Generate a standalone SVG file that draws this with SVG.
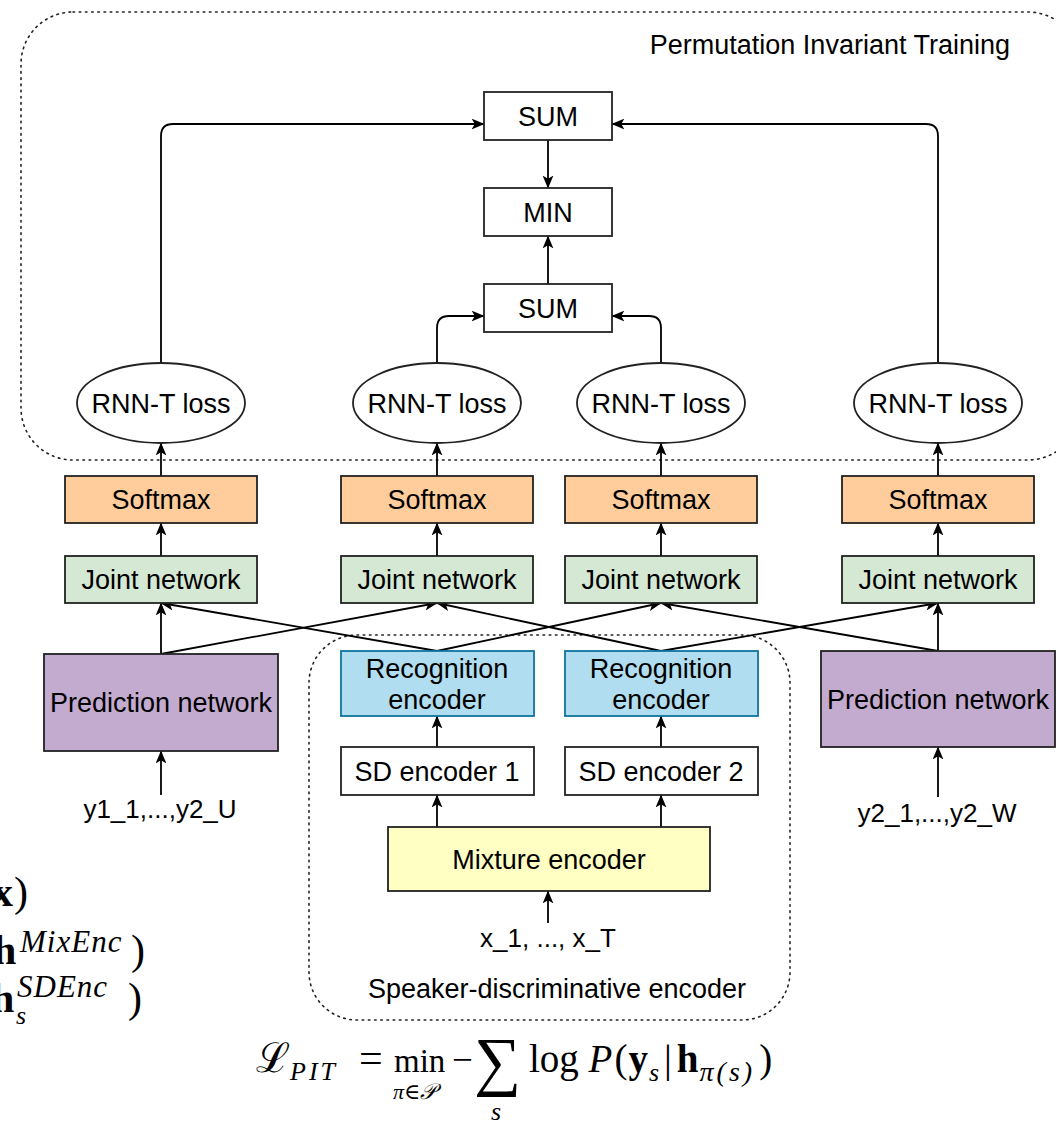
<svg xmlns="http://www.w3.org/2000/svg" width="1056" height="1126" viewBox="0 0 1056 1126">
<style>
.box{stroke:#222;stroke-width:1.8}
.lbl{font-family:"Liberation Sans",Arial,sans-serif;font-size:27px;fill:#000;text-anchor:middle}
.in{font-family:"Liberation Sans",Arial,sans-serif;font-size:26px;fill:#000;text-anchor:middle}
.c{fill:none;stroke:#000;stroke-width:1.8}
.dot{fill:none;stroke:#222;stroke-width:1.6;stroke-dasharray:1.6 4.6;stroke-linecap:round}
.m{font-family:"Liberation Serif","DejaVu Serif",serif;font-size:37px;fill:#000}
.sm{font-size:26px}
.it{font-style:italic}
.bf{font-weight:bold}
.soft{fill:#ffcd9c}
.joint{fill:#d5e8d4}
.pred{fill:#c3abd0}
.rec{fill:#b1ddf0;stroke:#10739e;stroke-width:1.8}
.mix{fill:#ffffc4}
.wht{fill:#fff}
</style>
<defs>
<marker id="ar" markerUnits="userSpaceOnUse" markerWidth="13" markerHeight="11" viewBox="0 0 12 10" refX="11.5" refY="5" orient="auto">
<path d="M0,0 L12,5 L0,10 L3,5 z" fill="#000"/>
</marker>
</defs>

<g id="containers">
<rect id="pit" class="dot" x="21" y="12" width="1059" height="448" rx="52" ry="52"/>
<text class="lbl" x="1010" y="54" style="text-anchor:end">Permutation Invariant Training</text>
<rect id="sde" class="dot" x="309" y="635" width="481" height="385" rx="48" ry="48"/>
<text class="lbl" x="557" y="998">Speaker-discriminative encoder</text>
</g>

<g id="connectors">
<path class="c" d="M161,363 V136 Q161,124 173,124 H484" marker-end="url(#ar)"/>
<path class="c" d="M938,363 V136 Q938,124 926,124 H612" marker-end="url(#ar)"/>
<path class="c" d="M437,363 V328 Q437,316 449,316 H484" marker-end="url(#ar)"/>
<path class="c" d="M661,363 V328 Q661,316 649,316 H612" marker-end="url(#ar)"/>
<path class="c" d="M548,140 V188" marker-end="url(#ar)"/>
<path class="c" d="M548,284 V236" marker-end="url(#ar)"/>
<path class="c" d="M161,476 V443" marker-end="url(#ar)"/>
<path class="c" d="M437,476 V443" marker-end="url(#ar)"/>
<path class="c" d="M661,476 V443" marker-end="url(#ar)"/>
<path class="c" d="M938,476 V443" marker-end="url(#ar)"/>
<path class="c" d="M161,556 V523" marker-end="url(#ar)"/>
<path class="c" d="M437,556 V523" marker-end="url(#ar)"/>
<path class="c" d="M661,556 V523" marker-end="url(#ar)"/>
<path class="c" d="M938,556 V523" marker-end="url(#ar)"/>
<path class="c" d="M161,654 V603" marker-end="url(#ar)"/>
<path class="c" d="M938,651 V603" marker-end="url(#ar)"/>
<path class="c" d="M161,654 L437,603" marker-end="url(#ar)"/>
<path class="c" d="M437,651 L161,603" marker-end="url(#ar)"/>
<path class="c" d="M437,651 L661,603" marker-end="url(#ar)"/>
<path class="c" d="M661,651 L437,603" marker-end="url(#ar)"/>
<path class="c" d="M661,651 L938,603" marker-end="url(#ar)"/>
<path class="c" d="M938,651 L661,603" marker-end="url(#ar)"/>
<path class="c" d="M437,747 V716" marker-end="url(#ar)"/>
<path class="c" d="M661,747 V716" marker-end="url(#ar)"/>
<path class="c" d="M437,827 V795" marker-end="url(#ar)"/>
<path class="c" d="M661,827 V795" marker-end="url(#ar)"/>
<path class="c" d="M548,923 V891" marker-end="url(#ar)"/>
<path class="c" d="M161,795 V751" marker-end="url(#ar)"/>
<path class="c" d="M938,797 V747" marker-end="url(#ar)"/>
</g>

<g id="sum-top"><rect class="box wht" x="484" y="92" width="128" height="48"/><text class="lbl" x="548" y="126">SUM</text></g>
<g id="min"><rect class="box wht" x="484" y="188" width="128" height="48"/><text class="lbl" x="548" y="222">MIN</text></g>
<g id="sum-inner"><rect class="box wht" x="484" y="284" width="128" height="48"/><text class="lbl" x="548" y="318">SUM</text></g>

<g id="loss1"><ellipse class="box wht" cx="161" cy="403" rx="84" ry="40"/><text class="lbl" x="161" y="413">RNN-T loss</text></g>
<g id="loss2"><ellipse class="box wht" cx="437" cy="403" rx="84" ry="40"/><text class="lbl" x="437" y="413">RNN-T loss</text></g>
<g id="loss3"><ellipse class="box wht" cx="661" cy="403" rx="84" ry="40"/><text class="lbl" x="661" y="413">RNN-T loss</text></g>
<g id="loss4"><ellipse class="box wht" cx="938" cy="403" rx="84" ry="40"/><text class="lbl" x="938" y="413">RNN-T loss</text></g>

<g id="softmax1"><rect class="box soft" x="65" y="476" width="192" height="47"/><text class="lbl" x="161" y="509">Softmax</text></g>
<g id="softmax2"><rect class="box soft" x="341" y="476" width="192" height="47"/><text class="lbl" x="437" y="509">Softmax</text></g>
<g id="softmax3"><rect class="box soft" x="565" y="476" width="192" height="47"/><text class="lbl" x="661" y="509">Softmax</text></g>
<g id="softmax4"><rect class="box soft" x="842" y="476" width="192" height="47"/><text class="lbl" x="938" y="509">Softmax</text></g>

<g id="joint1"><rect class="box joint" x="65" y="556" width="192" height="47"/><text class="lbl" x="161" y="589">Joint network</text></g>
<g id="joint2"><rect class="box joint" x="341" y="556" width="192" height="47"/><text class="lbl" x="437" y="589">Joint network</text></g>
<g id="joint3"><rect class="box joint" x="565" y="556" width="192" height="47"/><text class="lbl" x="661" y="589">Joint network</text></g>
<g id="joint4"><rect class="box joint" x="842" y="556" width="192" height="47"/><text class="lbl" x="938" y="589">Joint network</text></g>

<g id="pred1"><rect class="box pred" x="44" y="654" width="234" height="97"/><text class="lbl" x="161" y="712">Prediction network</text></g>
<g id="pred2"><rect class="box pred" x="821" y="651" width="234" height="96"/><text class="lbl" x="938" y="709">Prediction network</text></g>

<g id="rec1"><rect class="rec" x="341" y="651" width="193" height="65"/><text class="lbl" x="437" y="678">Recognition</text><text class="lbl" x="437" y="709">encoder</text></g>
<g id="rec2"><rect class="rec" x="565" y="651" width="193" height="65"/><text class="lbl" x="661" y="678">Recognition</text><text class="lbl" x="661" y="709">encoder</text></g>

<g id="sd1"><rect class="box wht" x="341" y="747" width="193" height="48"/><text class="lbl" x="437" y="781">SD encoder 1</text></g>
<g id="sd2"><rect class="box wht" x="565" y="747" width="193" height="48"/><text class="lbl" x="661" y="781">SD encoder 2</text></g>

<g id="mixture"><rect class="box mix" x="388" y="827" width="322" height="64"/><text class="lbl" x="549" y="869">Mixture encoder</text></g>

<g id="inputs">
<text class="in" x="160" y="818">y1_1,...,y2_U</text>
<text class="in" x="937" y="822">y2_1,...,y2_W</text>
<text class="in" x="548" y="947">x_1, ..., x_T</text>
</g>

<g id="side-formulas" class="m">
<text x="-8" y="906" style="font-size:42px"><tspan class="bf">x</tspan><tspan x="14">)</tspan></text>
<text x="-7" y="964" style="font-size:42px"><tspan class="bf">h</tspan><tspan x="20" y="952" class="it" style="font-size:31px;letter-spacing:1px">MixEnc</tspan><tspan x="131" y="964">)</tspan></text>
<text x="-9" y="1012" style="font-size:42px"><tspan class="bf">h</tspan><tspan x="17" y="997" class="it" style="font-size:31px;letter-spacing:1px">SDEnc</tspan><tspan x="16" y="1024" class="it" style="font-size:26px">s</tspan><tspan x="128" y="1012">)</tspan></text>
</g>

<g id="pit-formula" class="m">
<text x="256" y="1072" style="font-size:41px">ℒ</text>
<text x="290" y="1080" class="it sm" style="letter-spacing:3px">PIT</text>
<text x="359" y="1072" style="font-size:42px">=</text>
<text x="394" y="1072" style="font-size:33px">min</text>
<text x="393" y="1099" class="it" style="font-size:22px">π∈𝒫</text>
<text x="452" y="1072">−</text>
<text x="474" y="1083" style="font-size:66px">∑</text>
<text x="491" y="1120" class="it sm">s</text>
<text x="529" y="1072" style="font-size:39px">log <tspan class="it">P</tspan><tspan dx="2">(</tspan><tspan class="bf" dx="1">y</tspan><tspan class="it" y="1081" dx="1" style="font-size:26px">s</tspan><tspan y="1072" dx="5">|</tspan><tspan class="bf" dx="5">h</tspan><tspan class="it" y="1081" dx="1" style="font-size:28px;letter-spacing:3px">π(s)</tspan><tspan y="1072" dx="4">)</tspan></text>
</g>
</svg>
